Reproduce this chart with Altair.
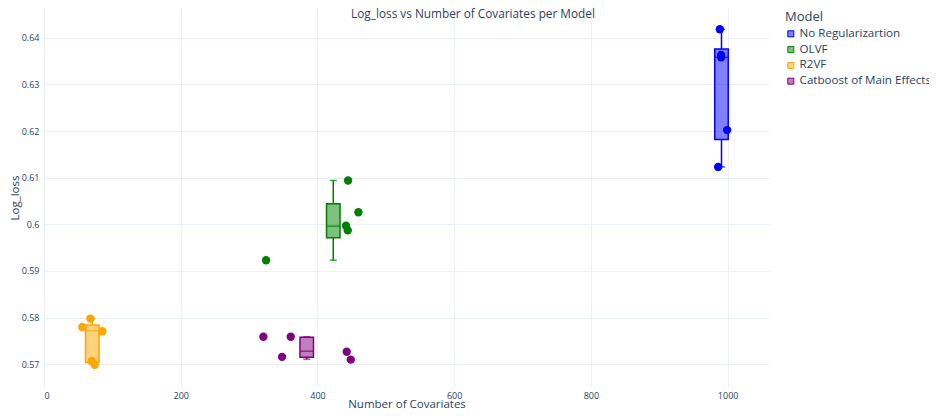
import altair as alt
import pandas as pd

# ---- data ----
models = ["No Regularizartion", "OLVF", "R2VF", "Catboost of Main Effects"]
colors = ["#0000ff", "#008000", "#ffa500", "#800080"]
box_fills = ["rgba(0,0,255,0.5)", "rgba(0,128,0,0.5)", "rgba(255,165,0,0.5)", "rgba(128,0,128,0.5)"]

pt_model = (["No Regularizartion"] * 5 + ["OLVF"] * 5 + ["R2VF"] * 5
            + ["Catboost of Main Effects"] * 5)
pt_cov = [988.6, 990.5, 990.5, 999.3, 986.1,
          324.8, 444.8, 459.9, 441.8, 444.3,
          56.0, 67.8, 85.3, 69.8, 74.1,
          320.9, 348.2, 360.9, 442.8, 448.7]
pt_loss = [0.6418, 0.6363, 0.6358, 0.6202, 0.6123,
           0.5923, 0.6094, 0.6026, 0.5997, 0.5987,
           0.5780, 0.5798, 0.5771, 0.5707, 0.5699,
           0.5759, 0.5716, 0.5759, 0.5727, 0.5710]

# box statistics per model (as drawn in the reference)
box_lower = [0.6123, 0.5923, 0.5699, 0.5711]
box_q1 = [0.6182, 0.5971, 0.5704, 0.5715]
box_median = [0.6358, 0.5996, 0.5772, 0.5728]
box_q3 = [0.6376, 0.6044, 0.5784, 0.5758]
box_upper = [0.6418, 0.6094, 0.5798, 0.5759]

x_ticks = [0, 200, 400, 600, 800, 1000]
y_ticks = [0.57, 0.58, 0.59, 0.60, 0.61, 0.62, 0.63, 0.64]

points = pd.DataFrame({"Model": pt_model, "cov": pt_cov, "loss": pt_loss})
centers = points.groupby("Model", sort=False)["cov"].mean().reindex(models).tolist()
boxes = pd.DataFrame({"Model": models, "cx": centers, "lower": box_lower, "q1": box_q1,
                      "median": box_median, "q3": box_q3, "upper": box_upper})

FONT = "Open Sans"
TXT = "#2a3f5f"

xscale = alt.Scale(domain=[0, 1060.5], zero=False, nice=False, padding=0)
yscale = alt.Scale(domain=[0.565135, 0.646365], zero=False, nice=False, padding=0)
# solid colours for points/lines (domain listed in reverse so this scale is kept
# apart from the legend scales below)
color_scale = alt.Scale(domain=models[::-1], range=colors[::-1])
stroke_scale = alt.Scale(domain=models, range=colors)
fill_scale = alt.Scale(domain=models, range=box_fills)

x_axis = alt.Axis(values=x_ticks, format="d", title="Number of Covariates",
                  labelFontSize=9, labelPadding=4, labelColor=TXT, labelFont=FONT,
                  titleFont=FONT, titleFontSize=11.5, titleColor=TXT, titleFontWeight="normal",
                  titleY=20.5, titleBaseline="alphabetic",
                  grid=True, gridColor="#ebf0f8", domain=False, ticks=False)
y_axis = alt.Axis(values=y_ticks, format="~g", title="Log_loss",
                  labelFontSize=9, labelPadding=5, labelColor=TXT, labelFont=FONT,
                  titleFont=FONT, titleFontSize=11.5, titleColor=TXT, titleFontWeight="normal",
                  titleX=-26, titleBaseline="alphabetic",
                  grid=True, gridColor="#ebf0f8", domain=False, ticks=False)

legend_kw = dict(title="Model", orient="none", legendX=741, legendY=3,
                 titleFont=FONT, titleFontSize=13, titleColor=TXT, titleFontWeight="normal",
                 titlePadding=4, labelFont=FONT, labelFontSize=11.6, labelColor=TXT,
                 labelLimit=400,
                 symbolType="square", symbolSize=36, symbolStrokeWidth=1, symbolOffset=0,
                 labelOffset=3, rowPadding=2.8, padding=0)

base_box = alt.Chart(boxes)
col = alt.Color("Model:N", scale=color_scale, legend=None)

whisk_lo = base_box.mark_rule(strokeWidth=1.5).encode(
    x=alt.X("cx:Q", scale=xscale, axis=x_axis),
    y=alt.Y("lower:Q", scale=yscale, axis=y_axis),
    y2="q1:Q", color=col,
)
whisk_hi = base_box.mark_rule(strokeWidth=1.5).encode(
    x="cx:Q", y="q3:Q", y2="upper:Q", color=col,
)
cap_lo = base_box.mark_tick(orient="horizontal", size=7, thickness=1.5).encode(
    x="cx:Q", y="lower:Q", color=col,
)
cap_hi = base_box.mark_tick(orient="horizontal", size=7, thickness=1.5).encode(
    x="cx:Q", y="upper:Q", color=col,
)
box = base_box.mark_bar(size=13.5, strokeWidth=1.5, orient="vertical").encode(
    x="cx:Q", y="q1:Q", y2="q3:Q",
    fill=alt.Fill("Model:N", scale=fill_scale, legend=alt.Legend(**legend_kw)),
    stroke=alt.Stroke("Model:N", scale=stroke_scale, legend=alt.Legend(**legend_kw)),
)
med = base_box.mark_tick(orient="horizontal", size=13.5, thickness=1.5).encode(
    x="cx:Q", y="median:Q", color=col,
)
dots = alt.Chart(points).mark_circle(size=70, opacity=1).encode(
    x="cov:Q", y="loss:Q", color=col,
)

chart = alt.layer(whisk_lo, whisk_hi, cap_lo, cap_hi, box, med, dots).properties(
    width=725, height=379,
    autosize=alt.AutoSizeParams(type="none"),
    padding={"left": 36, "top": 0, "right": 160, "bottom": 23},
    background="white",
    title=alt.TitleParams("Log_loss vs Number of Covariates per Model", font=FONT,
                          fontSize=11.8, fontWeight="normal", color=TXT, anchor="middle",
                          frame="group", offset=-22, baseline="alphabetic", dx=66.5),
).configure_view(strokeWidth=0)

chart.save("out.html", embed_options={"renderer": "svg", "actions": False})
